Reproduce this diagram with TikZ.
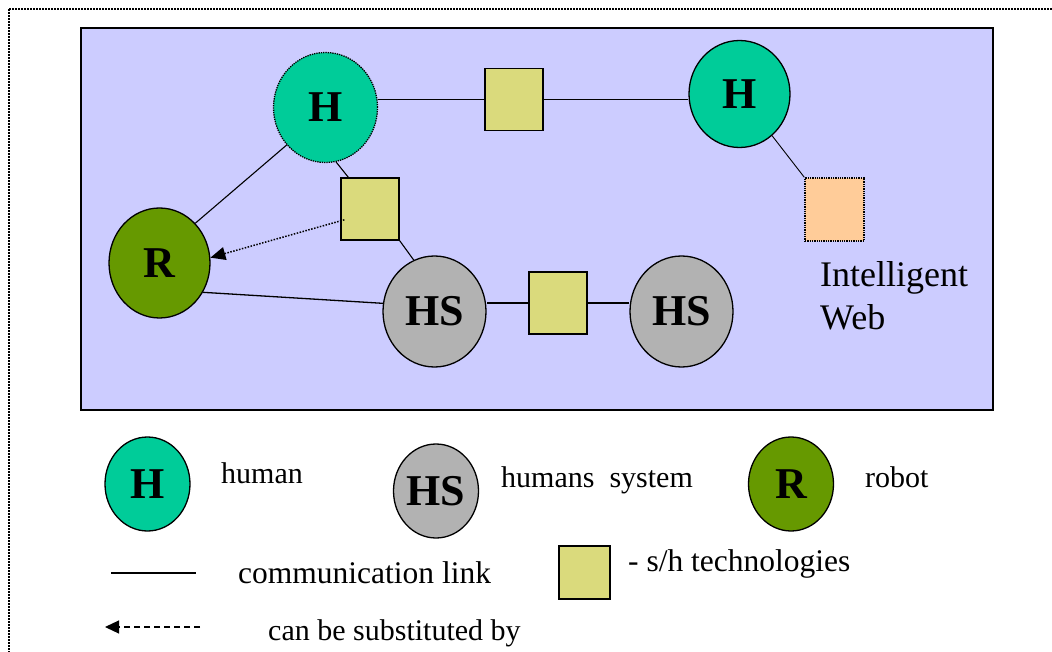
\documentclass[tikz,border=0pt]{standalone}
\usepackage{fontspec}
\setmainfont{Liberation Serif}
\usetikzlibrary{shapes.geometric,arrows.meta}

\definecolor{webblue}{HTML}{CCCCFF}
\definecolor{humgreen}{HTML}{00CC99}
\definecolor{robgreen}{HTML}{669900}
\definecolor{sysgrey}{HTML}{B2B2B2}
\definecolor{techyellow}{HTML}{DADA7C}
\definecolor{weborange}{HTML}{FFCC99}

\begin{document}
\begin{tikzpicture}[x=1pt,y=-1pt]
	\tikzset{agent/.style={ellipse,draw,line width=1.3pt,inner sep=0pt,font=\fontsize{44}{44}\selectfont\bfseries}}
	\tikzset{human/.style={agent,fill=humgreen,minimum width=104,minimum height=110},
		robot/.style={agent,fill=robgreen,minimum width=101,minimum height=110},
		hsys/.style={agent,fill=sysgrey,minimum width=103,minimum height=111},
		small/.style={minimum width=85,minimum height=94}}
	\tikzset{tech/.style={rectangle,draw,line width=1.3pt,fill=techyellow,minimum width=58,minimum height=62,inner sep=0pt},
		link/.style={line width=1.1pt},
		subst/.style={line width=1.5pt,dash pattern=on 1.5pt off 1.5pt,-{Triangle[length=15pt,width=13pt]}},
		legend/.style={anchor=base west,inner sep=0pt,font=\fontsize{30}{36}\selectfont}}

\useasboundingbox (0,0) rectangle (1052,652);
\clip (0,0) rectangle (1052,652);

% outer frame and the web
\draw[line width=1.3pt,dash pattern=on 2pt off 1pt] (9,9) rectangle (1120,720);
\draw[line width=1.8pt,fill=webblue] (81,28) rectangle (993,410);

\node[human,densely dotted] (H1) at (325.5,107.5) {H};
\node[human,minimum width=101,minimum height=107] (H2) at (739.5,94) {H};
\node[robot] (R) at (159.5,263) {R};
\node[hsys] (HS1) at (434.5,311.5) {HS};
\node[hsys] (HS2) at (681.5,311.5) {HS};

\node[tech] (sq1) at (514,99.5) {};
\node[tech] (sq2) at (370,209) {};
\node[tech] (sq3) at (558,303) {};
\node[tech,fill=weborange,minimum width=59,minimum height=63,densely dotted] (iweb) at (834.5,209.5) {};

\node[anchor=north west,align=left,inner sep=0pt,font=\fontsize{36}{43}\selectfont] (webtext) at (820,261) {Intelligent\\Web};

\draw[link] (sq1.west) -- (sq1.west -| H1.east);
\draw[link] (sq1.east) -- (sq1.east -| H2.west);
\draw[line width=0.9pt] (H2.-52) -- (iweb.north west);
\draw[link] (H1.-136) -- (R.48);
\draw[link] (H1.-79) -- ([xshift=8pt]sq2.north west);
\draw[link] (sq2.south east) -- (HS1.112);
\draw[link,line width=1.3pt] (R.-34) -- (HS1.171);
\draw[link] (sq3.west) -- (sq3.west -| HS1.east);
\draw[link] (sq3.east) -- (sq3.east -| HS2.west);
\draw[subst] ([xshift=4pt]sq2.200) -- (R.6);

% legend
\node[human,small] (lgH) at (147.5,484) {H};
\node[legend] (lgHtext) at (221,483) {human};
\node[hsys,small] (lgHS) at (436,491) {HS};
\node[legend] (lgHStext) at (501,487) {humans\ \ system};
\node[robot,small] (lgR) at (791,484) {R};
\node[legend] (lgRtext) at (865,487) {robot};

\coordinate (lnA) at (111,573);
\coordinate (lnB) at (196,573);
\draw[link] (lnA) -- (lnB);
\node[legend,font=\fontsize{31.5}{36}\selectfont] (lnText) at (238,583) {communication link};

\node[tech,minimum width=51,minimum height=53] (lgsq) at (584.5,572.5) {};
\node[legend,font=\fontsize{31.5}{36}\selectfont] (lgsqText) at (628,571) {- s/h technologies};

\coordinate (arA) at (200,627);
\coordinate (arB) at (105,627);
\draw[line width=1.2pt,dash pattern=on 6pt off 4pt,-{Triangle[length=14pt,width=13pt]}] (arA) -- (arB);
\node[legend] (arText) at (268,640) {can be substituted by};

\end{tikzpicture}
\end{document}
